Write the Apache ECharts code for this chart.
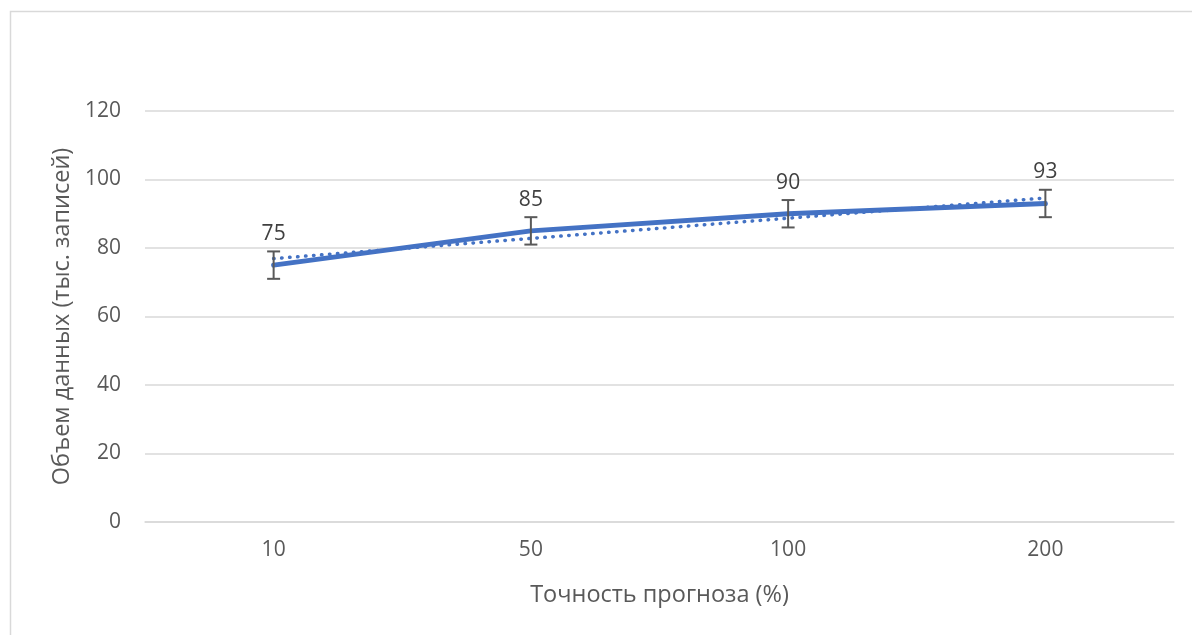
<!DOCTYPE html>
<html>
<head>
<meta charset="utf-8">
<script src="https://cdn.jsdelivr.net/npm/echarts@6/dist/echarts.min.js"></script>
<style>html,body{margin:0;padding:0;background:#fff}#c{width:1192px;height:635px}</style>
</head>
<body>
<div id="c"></div>
<script>
const categories = ['10', '50', '100', '200'];
const values = [75, 85, 90, 93];
const errorAmount = [4, 4, 4, 4];
const trendValues = [76.9, 82.8, 88.7, 94.6];
const yTicks = [0, 20, 40, 60, 80, 100, 120];

const chart = echarts.init(document.getElementById('c'));
const font = '"Open Sans", "Noto Sans", sans-serif';
chart.setOption({
  animation: false,
  backgroundColor: '#fff',
  graphic: [{
    type: 'rect', left: 8, top: 9, shape: {width: 1200, height: 640},
    style: {fill: 'none', stroke: '#d9d9d9', lineWidth: 1.5}, silent: true
  }],
  grid: {left: 145, right: 18, top: 111, bottom: 113},
  xAxis: {
    type: 'category', data: categories, boundaryGap: true,
    axisLine: {lineStyle: {color: '#d9d9d9', width: 1.5}},
    axisTick: {show: false},
    axisLabel: {color: '#595959', fontSize: 21, margin: 18, fontFamily: font},
    name: 'Точность прогноза (%)', nameLocation: 'middle', nameGap: 61,
    nameTextStyle: {color: '#595959', fontSize: 23.5, fontFamily: font}
  },
  yAxis: {
    type: 'value', min: yTicks[0], max: yTicks[yTicks.length - 1], interval: 20,
    axisLine: {show: false}, axisTick: {show: false},
    splitLine: {lineStyle: {color: '#d9d9d9', width: 1.5}},
    axisLabel: {color: '#595959', fontSize: 21, margin: 24, fontFamily: font},
    name: 'Объем данных (тыс. записей)', nameLocation: 'middle', nameGap: 71, nameRotate: 90,
    nameTextStyle: {color: '#595959', fontSize: 23.5, fontFamily: font}
  },
  series: [
    {
      type: 'line', data: trendValues, symbol: 'none', z: 2,
      lineStyle: {color: '#4472C4', width: 3.5, type: [0.5, 7.5], cap: 'round'}
    },
    {
      type: 'line', data: values, symbol: 'circle', symbolSize: 1, showSymbol: true, z: 3,
      itemStyle: {color: 'rgba(0,0,0,0)'},
      lineStyle: {color: '#4472C4', width: 5, cap: 'round'},
      label: {show: true, position: 'top', distance: 20, color: '#404040', fontSize: 21, fontFamily: font}
    },
    {
      type: 'custom', z: 4,
      data: values.map((v, i) => [i, v - errorAmount[i], v + errorAmount[i]]),
      renderItem: function (params, api) {
        const lo = api.coord([api.value(0), api.value(1)]);
        const hi = api.coord([api.value(0), api.value(2)]);
        const w = 6.5;
        const st = {stroke: '#595959', lineWidth: 2, fill: 'none'};
        return {type: 'group', children: [
          {type: 'line', shape: {x1: lo[0], y1: lo[1], x2: hi[0], y2: hi[1]}, style: st},
          {type: 'line', shape: {x1: lo[0] - w, y1: lo[1], x2: lo[0] + w, y2: lo[1]}, style: st},
          {type: 'line', shape: {x1: hi[0] - w, y1: hi[1], x2: hi[0] + w, y2: hi[1]}, style: st}
        ]};
      }
    }
  ]
});
</script>
</body>
</html>
